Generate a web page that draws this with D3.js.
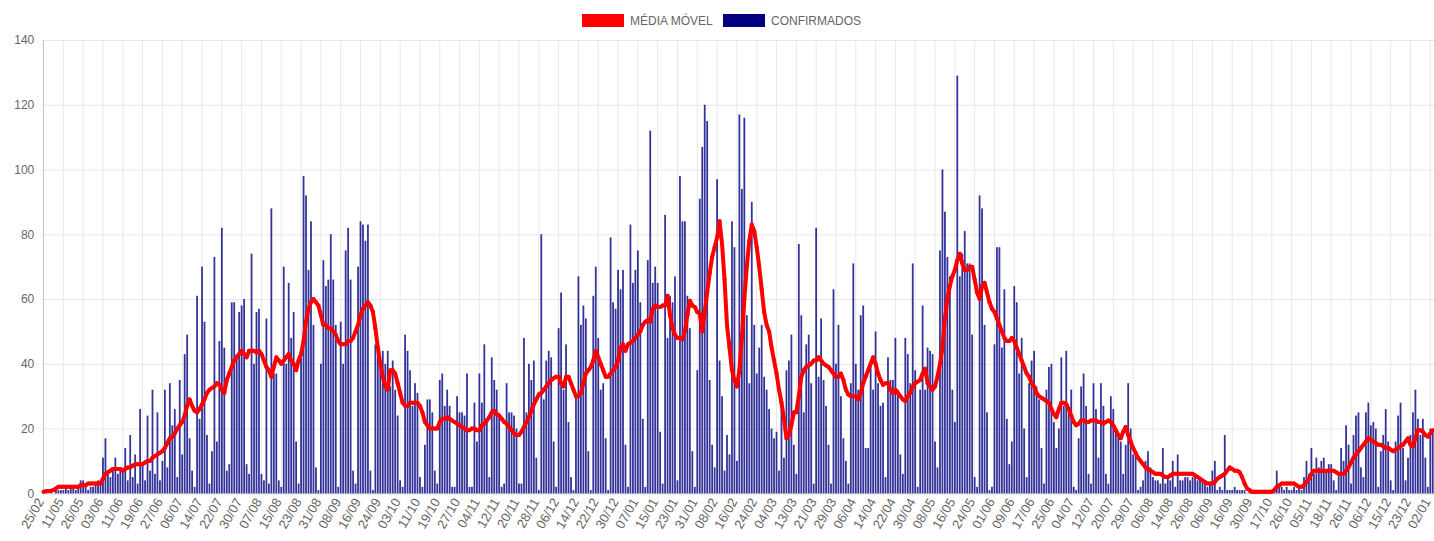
<!DOCTYPE html>
<html>
<head>
<meta charset="utf-8">
<script src="https://cdn.jsdelivr.net/npm/d3@7/dist/d3.min.js"></script>
<style>
  body { margin: 0; background: #fff; }
  svg { display: block; }
</style>
</head>
<body>
<div id="chart"></div>
<script>
// one label every 8 categories (the chart skips the rest)
const tickStep = 8;
const tickLabels = [
  '25/02','11/05','26/05','03/06','11/06','19/06','27/06','06/07','14/07','22/07',
  '30/07','07/08','15/08','23/08','31/08','08/09','16/09','24/09','03/10','11/10',
  '19/10','27/10','04/11','12/11','20/11','28/11','06/12','14/12','22/12','30/12',
  '07/01','15/01','23/01','31/01','08/02','16/02','24/02','04/03','13/03','21/03',
  '29/03','06/04','14/04','22/04','30/04','08/05','16/05','24/05','01/06','09/06',
  '17/06','25/06','04/07','12/07','20/07','29/07','06/08','14/08','26/08','06/09',
  '16/09','30/09','17/10','26/10','05/11','18/11','26/11','06/12','15/12','23/12',
  '02/01'
];
const yTicks = [0, 20, 40, 60, 80, 100, 120, 140];

// daily confirmed cases
const confirmados = [
  1,0,0,1,0,1,1,1,1,2,1,2,2,1,2,4,4,2,1,2,2,3,4,4,11,17,7,5,8,11,6,8,7,14,4,18,5,12,3,26,9,4,24,7,
  32,6,25,4,10,32,8,34,21,26,5,35,12,43,49,17,7,2,61,23,70,53,18,3,13,73,16,47,82,45,7,9,59,59,43,56,58,60,9,6,74,40,56,57,6,4,54,3,
  88,37,37,4,2,70,40,65,48,56,16,3,42,98,92,69,84,52,8,1,40,72,64,66,80,66,52,2,53,40,75,82,66,7,3,70,84,83,78,83,7,1,46,47,39,44,40,44,
  33,41,32,24,4,2,49,44,38,27,34,31,5,2,15,29,29,25,7,3,35,37,27,32,27,2,2,30,25,25,24,37,2,2,28,16,37,28,46,22,5,42,35,32,24,2,3,
  34,25,25,24,20,3,3,48,25,40,35,41,11,1,80,29,41,44,42,16,2,51,62,32,46,22,5,1,30,67,52,58,54,13,1,61,70,48,32,34,17,1,79,59,57,69,63,69,
  15,2,83,65,69,75,59,23,2,72,112,65,70,65,19,3,86,48,61,59,67,4,98,84,84,61,51,13,2,38,91,107,120,115,35,15,8,97,41,30,7,18,12,84,76,10,117,
  94,116,55,34,90,52,37,45,52,36,32,26,20,17,19,7,28,11,38,41,49,15,6,77,55,25,46,49,34,3,82,36,54,35,27,15,3,63,40,52,30,17,10,3,34,71,40,32,
  55,58,14,14,40,32,50,34,27,28,5,42,35,35,48,32,12,6,48,43,34,71,38,2,32,58,32,45,44,43,16,8,75,100,87,73,67,32,22,129,67,74,81,71,71,49,5,2,
  92,88,52,25,1,2,46,76,76,45,63,23,9,16,64,59,37,48,20,5,34,41,44,33,29,14,3,32,39,40,22,14,20,42,27,44,25,32,2,1,17,33,37,27,6,3,34,
  26,11,34,27,6,3,30,26,20,18,16,6,15,34,20,12,12,1,2,4,10,13,8,5,4,4,3,14,3,5,4,10,2,12,4,4,5,5,4,5,6,4,4,4,3,2,3,7,
  10,1,2,1,18,1,1,1,2,1,1,1,1,0,1,0,0,1,1,0,0,1,0,1,1,7,2,2,1,2,1,1,2,1,2,1,5,10,6,14,6,11,8,10,11,7,9,
  9,4,1,6,14,10,21,15,3,18,24,25,8,5,25,28,21,22,20,2,13,18,26,16,4,1,16,24,28,14,4,11,18,25,32,23,18,23,11,2,20,20
];

// moving average
const mediaMovel = [
  0.5,0.6,0.7,0.8,1,1.5,2,2,2,2,2,2,2,2,2,2.5,2.5,2.5,3,3,3,3,3,3,4.5,6,6.5,7,7.5,7.5,7.5,7.5,7,7.5,8,8,8.5,9,9,9,9,9.5,10,10,
  11,11.5,12,12.5,13,14,15.5,17,17.5,18.5,20,21,22,24,27,29,27,25.5,25,26,27.5,29,31,32,32.5,33,34,33.5,32,31,35,37,39,41,42,43,44,43,42,44,44,44,43.5,44,43,41,39,38,
  36,39,42,41,40,41,42,43,41,40,38,41,43,47,53,57,59,60,59,58,55,52,52,51,51,50,49,47,46,46,46,47,47,48,50,52,55,57,58,59,58,56,51,45,40,36,33,32,
  38,38,37,34,31,28,27,27,28,28,28,28,27,25,22,21,20,20,20,20,22,23,23,23.5,23,22.5,22,21.5,21,20.5,20,19.5,19.5,20,20,19.5,19.5,21,21.5,22.5,23.5,25,25.5,24.5,24,23,22,
  21.5,20.5,19.5,18.5,18,18,19,20.5,22,23.5,25.5,27.5,29,30.5,31,32,33,34,35,35.5,36,36,34,33,36,36,34,32,30,30,31,34,37,38,39,41,44,42,40,38,36,36,37,38,39,41,45,46,
  44,46,46.5,47,48,49,50,52,53,53.5,53,57,58,57.5,57.5,58,58,61,55,51,49,48,48,47.5,50,55,59.5,58,57.5,56,55.5,50,56,62,68,73,76,79,84,77,66,52,45,38,35,33,38,
  48,60,70,78,83,81,76,70,63,56,52,50,45,41,37,32,28,23,17,18,21,25,25,30,36,38,39,39.5,40,41,41,42,41,40,39.5,39,38,37,36,36,37,35,32,30.5,30,30,30,29,
  31,34,36,38,40,42,40,37,35,33.5,34,34,32,31,32,31,30,29,28.5,30,31,33,34,34.5,35,37,38.5,34,33,32,33,36,40,45,54,60,64,67,69,72,74,71,69,69,70,70,66,62,
  60,64,65,62,59,57,56,54,52,50,48,47,47,48,47,45,43,41,39,37,36,34,33,31,30,29.5,29,28.5,28,26,24.5,23.5,26,28,28,27.5,26,24,22,21,21.5,22.5,22.5,22,22,22.5,22.5,
  22.5,22,22,21.5,22,22.5,22,21,19.5,18,17,19,20.5,18,16,14,12.5,11,10,9,8,7.5,7,6.5,6,6,6,5.5,5,5,5.5,6,6,6,6,6,6,6,6,6,5.5,5,4.5,4,3.5,3,3,3,
  3.5,4.5,5,5.5,6,7,8,7.5,7,7,6.5,5,3,1.5,1,0.5,0.5,0.5,0.5,0.5,0.5,0.5,0.5,0.5,1,2,2.5,3,3,3,3,3,3,2.5,2,2,2.5,3.5,4.5,6,7,7,7,7,7,7,7,
  7,7,6.5,6,6,6,7,8,9.5,11,12,13,14,15,16,17,16.5,16,15.5,15,15,14.5,14,14,13.5,13,13.5,14,14.5,15,16,17,15,14.5,17,19.5,19.5,19,18,17.5,18.5,19.5
];

const legendItems = [
  { label: 'MÉDIA MÓVEL', color: '#ff0000' },
  { label: 'CONFIRMADOS', color: '#000080' }
];

const width = 1434;
const height = 541;
const area = { left: 42.3, right: 1434, top: 40, bottom: 493.3 };

const svg = d3.select('#chart')
  .append('svg')
  .attr('width', width)
  .attr('height', height)
  .style('font-family', 'Arial, "Liberation Sans", Helvetica, sans-serif');

const indices = d3.range(confirmados.length);

const x = d3.scaleBand()
  .domain(indices)
  .range([area.left, area.right])
  .paddingInner(0.28)
  .paddingOuter(0.14);

const y = d3.scaleLinear()
  .domain([0, 140])
  .range([area.bottom, area.top]);

// y grid + labels
const yAxis = svg.append('g')
  .attr('transform', `translate(${area.left},0)`)
  .call(
    d3.axisLeft(y)
      .tickValues(yTicks)
      .tickSize(-(area.right - area.left))
      .tickPadding(8)
  );
yAxis.select('.domain').remove();
yAxis.selectAll('line').attr('stroke', (d) => (d === 0 ? '#c4c4c4' : '#e8e8e8'));
yAxis.selectAll('text')
  .attr('fill', '#666')
  .style('font-size', '12px');

// x grid + rotated labels
const tickIdx = tickLabels.map((_, i) => i * tickStep);
const xAxis = svg.append('g')
  .attr('transform', `translate(0,${area.bottom})`)
  .call(
    d3.axisBottom(x)
      .tickValues(tickIdx)
      .tickFormat((i) => tickLabels[i / tickStep])
      .tickSize(-(area.bottom - area.top))
  );
xAxis.select('.domain').remove();
xAxis.selectAll('line').attr('stroke', (d) => (d === 0 ? '#c4c4c4' : '#e8e8e8'));
xAxis.selectAll('text')
  .attr('fill', '#666')
  .style('font-size', '13px')
  .attr('text-anchor', 'end')
  .attr('x', 0)
  .attr('y', 0)
  .attr('dy', '0.35em')
  .attr('transform', 'translate(-3,6) rotate(-60)');

// bars
svg.append('g')
  .attr('fill', legendItems[1].color)
  .attr('fill-opacity', 0.8)
  .selectAll('rect')
  .data(confirmados)
  .join('rect')
  .attr('x', (d, i) => x(i))
  .attr('width', x.bandwidth())
  .attr('y', (d) => y(d))
  .attr('height', (d) => y(0) - y(d));

// moving average line
const cx = (i) => x(i) + x.bandwidth() / 2;
const line = d3.line()
  .x((d, i) => cx(i))
  .y((d) => y(d));

const ma = svg.append('g');
ma.append('path')
  .datum(mediaMovel)
  .attr('fill', 'none')
  .attr('stroke', legendItems[0].color)
  .attr('stroke-width', 4)
  .attr('stroke-linejoin', 'round')
  .attr('d', line);
ma.selectAll('circle')
  .data(mediaMovel)
  .join('circle')
  .attr('cx', (d, i) => cx(i))
  .attr('cy', (d) => y(d))
  .attr('r', 2)
  .attr('fill', legendItems[0].color);

// legend
const legend = svg.append('g').attr('transform', 'translate(582,14)');
const legendX = [0, 141];
legendItems.forEach((item, i) => {
  const g = legend.append('g').attr('transform', `translate(${legendX[i]},0)`);
  g.append('rect')
    .attr('width', 42)
    .attr('height', 13)
    .attr('fill', item.color);
  g.append('text')
    .attr('x', 48)
    .attr('y', 7)
    .attr('dy', '0.35em')
    .attr('fill', '#666')
    .style('font-size', '12px')
    .text(item.label);
});

if (confirmados.length !== mediaMovel.length) {
  console.warn('length mismatch', confirmados.length, mediaMovel.length);
}
</script>
</body>
</html>
